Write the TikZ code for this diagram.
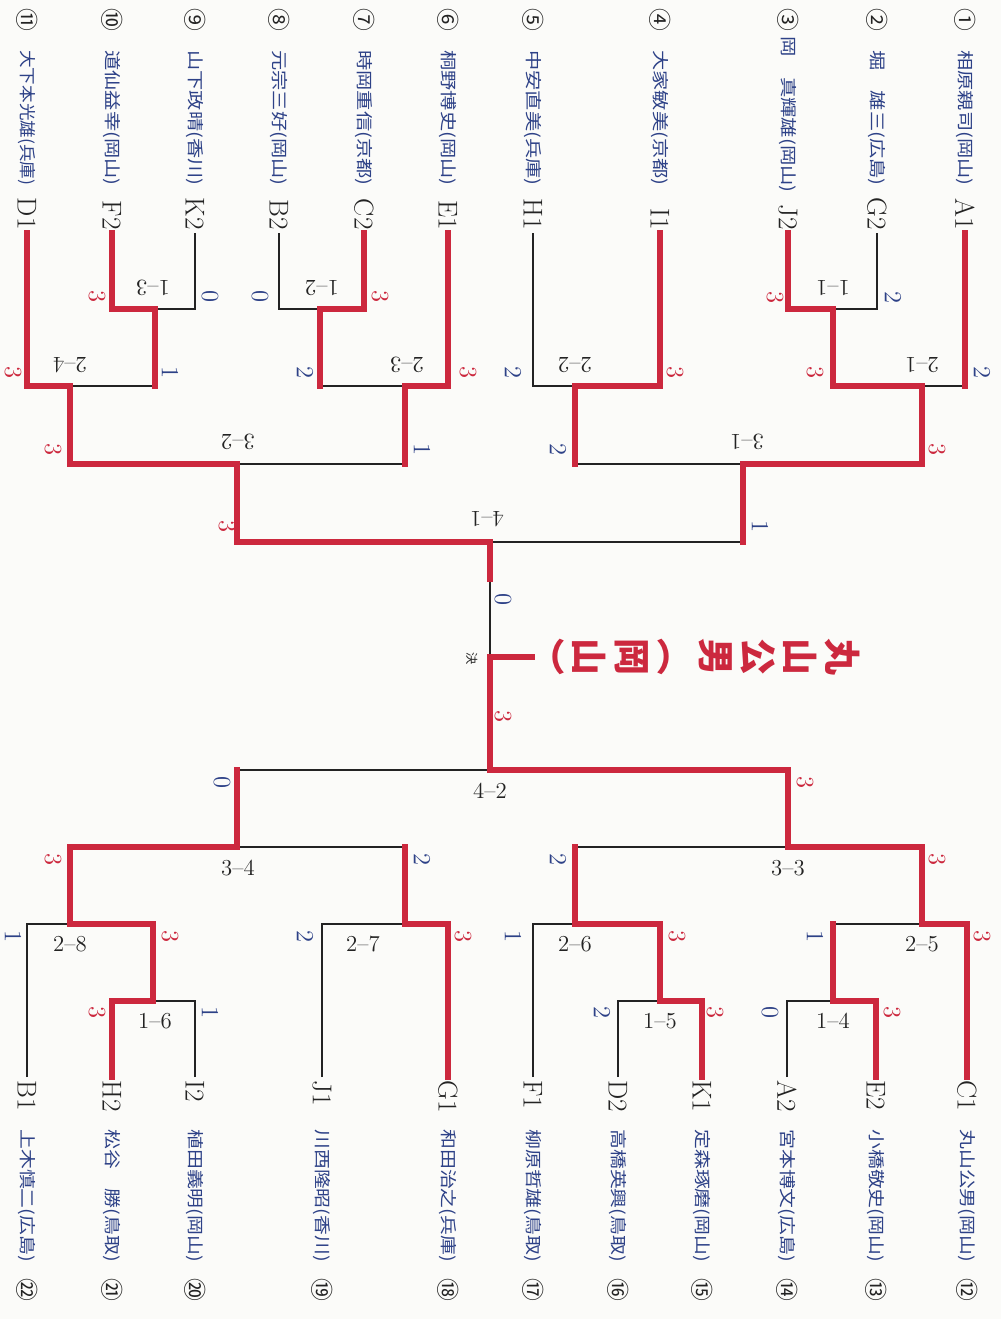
\documentclass[tikz,border=0pt]{standalone}
\usepackage{fontspec}
\usepackage{graphicx}
\newfontfamily\jpfont{Noto Sans CJK JP}
\usetikzlibrary{calc}
\definecolor{lineRed}{RGB}{204,40,62}
\definecolor{nameBlue}{RGB}{45,65,135}
\definecolor{inkBlack}{RGB}{35,35,35}
\definecolor{paper}{RGB}{251,251,249}
\tikzset{
  bline/.style={draw=inkBlack,line width=1pt},
  rline/.style={draw=lineRed,line width=3.6pt,line join=miter,line cap=rect},
  pname/.style={rotate=-90,inner sep=0pt,text=nameBlue,font=\jpfont\fontsize{9.5}{10}\selectfont},
  pcode/.style={rotate=-90,inner sep=0pt,text=inkBlack,font=\fontsize{15.5}{16}\selectfont},
  circnum/.style={rotate=-90,inner sep=0pt,text=inkBlack,font=\jpfont\fontsize{13}{14}\selectfont},
  score/.style={rotate=-90,inner sep=0pt,font=\fontsize{14}{15}\selectfont},
  mlabel/.style={inner sep=0pt,text=inkBlack,font=\fontsize{13}{14}\selectfont},
  champ/.style={rotate=-90,align=center,inner sep=0pt,text=lineRed,
                font=\jpfont\bfseries\fontsize{21}{24}\selectfont},
}

\begin{document}
\begin{tikzpicture}[x=0.02cm,y=-0.02cm]
  \fill[paper] (0,0) rectangle (1001,1319);
  \useasboundingbox (0,0) rectangle (1001,1319);

  \foreach \px/\c/\nm/\cd/\ny/\nw in {965/①/相原親司(岡山)/A1/50/2.7,877/②/堀　雄三(広島)/G2/50/2.7,
      788/③/岡　真輝雄(岡山)/J2/36/3.13,660/④/大家敏美(京都)/I1/50/2.7,533/⑤/中安直美(兵庫)/H1/50/2.7,
      448/⑥/桐野博史(岡山)/E1/50/2.7,364/⑦/時岡重信(京都)/C2/50/2.7,279/⑧/元宗三好(岡山)/B2/50/2.7,
      195/⑨/山下政晴(香川)/K2/50/2.7,112/⑩/道仙益幸(岡山)/F2/50/2.7,27/⑪/大下本光雄(兵庫)/D1/50/2.7}{
    \node[circnum]           (c\cd) at (\px,20)  {\c};
    \node[pname,anchor=west] (n\cd) at (\px,\ny) {\resizebox{\nw cm}{\height}{\nm}};
    \node[pcode,anchor=east] (k\cd) at (\px,230) {\cd};
    \coordinate (p\cd) at (\px,233);
  }
  \foreach \px/\c/\nm/\cd in {967/⑫/丸山公男(岡山)/C1,876/⑬/小橋敬史(岡山)/E2,787/⑭/宮本博文(広島)/A2,
      702/⑮/定森琢磨(岡山)/K1,618/⑯/高橋英興(鳥取)/D2,533/⑰/柳原哲雄(鳥取)/F1,448/⑱/和田治之(兵庫)/G1,
      322/⑲/川西隆昭(香川)/J1,195/⑳/植田義明(岡山)/I2,112/㉑/松谷　勝(鳥取)/H2,27/㉒/上木慎二(広島)/B1}{
    \node[circnum]           (c\cd) at (\px,1290) {\c};
    \node[pname,anchor=west] (n\cd) at (\px,1129) {\resizebox{2.65cm}{\height}{\nm}};
    \node[pcode,anchor=west] (k\cd) at (\px,1080) {\cd};
    \coordinate (p\cd) at (\px,1077);
  }

  \coordinate (m11) at (833,309);
  \coordinate (m12) at (320,309);
  \coordinate (m13) at (155,309);
  \coordinate (m21) at (922,386);
  \coordinate (m22) at (575,386);
  \coordinate (m23) at (405,386);
  \coordinate (m24) at (70,386);
  \coordinate (m31) at (743,464);
  \coordinate (m32) at (237,464);
  \coordinate (m41) at (490,542);
  \coordinate (brk)  at (490,579);
  \coordinate (fin)  at (490,657);
  \coordinate (stub) at (532,657);
  \coordinate (m42) at (490,770);
  \coordinate (m33) at (788,847);
  \coordinate (m34) at (237,847);
  \coordinate (m25) at (922,924);
  \coordinate (m26) at (575,924);
  \coordinate (m27) at (405,924);
  \coordinate (m28) at (70,924);
  \coordinate (m14) at (833,1001);
  \coordinate (m15) at (660,1001);
  \coordinate (m16) at (153,1001);

  \foreach \a/\b in {pG2/m11,pJ2/m11,m11/m21,pA1/m21,pH1/m22,pI1/m22,m22/m31,m21/m31,m31/m41,
      pB2/m12,pC2/m12,pK2/m13,pF2/m13,m12/m23,pE1/m23,pD1/m24,m13/m24,m24/m32,m23/m32,m32/m41,
      pA2/m14,pE2/m14,m14/m25,pC1/m25,pD2/m15,pK1/m15,pF1/m26,m15/m26,m26/m33,m25/m33,
      pJ1/m27,pG1/m27,pB1/m28,pI2/m16,pH2/m16,m16/m28,m28/m34,m27/m34,m34/m42,m33/m42}
    \draw[bline] (\a) |- (\b);
  \draw[bline] (m41) -- (fin);

  \draw[rline] (pJ2) |- (m11) |- (m21) |- (m31) -- (m31 |- m41);
  \draw[rline] (pA1) -- (pA1 |- m21);
  \draw[rline] (pI1) |- (m22) -- (m22 |- m31);
  \draw[rline] (pC2) |- (m12) -- (m12 |- m23);
  \draw[rline] (pE1) |- (m23) -- (m23 |- m32);
  \draw[rline] (pF2) |- (m13) -- (m13 |- m24);
  \draw[rline] (pD1) |- (m24) |- (m32) |- (m41) -- (brk);
  \draw[rline] (pE2) |- (m14) -- (m14 |- m25);
  \draw[rline] (pC1) |- (m25) |- (m33) |- (m42) -- (fin) -- (stub);
  \draw[rline] (pK1) |- (m15) |- (m26) -- (m26 |- m33);
  \draw[rline] (pG1) |- (m27) -- (m27 |- m34);
  \draw[rline] (pH2) |- (m16) |- (m28) |- (m34) -- (m34 |- m42);

  \foreach \sx/\sy/\sv/\sc [count=\i] in {97/297/3/lineRed,210/297/0/nameBlue,260/297/0/nameBlue,380/297/3/lineRed,
      775/298/3/lineRed,893/298/2/nameBlue,13/373/3/lineRed,170/373/1/nameBlue,305/373/2/nameBlue,
      468/373/3/lineRed,513/373/2/nameBlue,675/373/3/lineRed,815/373/3/lineRed,982/373/2/nameBlue,
      53/450/3/lineRed,422/450/1/nameBlue,558/450/2/nameBlue,937/450/3/lineRed,227/527/3/lineRed,
      760/527/1/nameBlue,503/600/0/nameBlue,503/717/3/lineRed,222/783/0/nameBlue,805/783/3/lineRed,
      53/860/3/lineRed,422/860/2/nameBlue,558/860/2/nameBlue,937/860/3/lineRed,13/937/1/nameBlue,
      170/937/3/lineRed,305/937/2/nameBlue,463/937/3/lineRed,513/937/1/nameBlue,677/937/3/lineRed,
      815/937/1/nameBlue,982/937/3/lineRed,97/1013/3/lineRed,210/1013/1/nameBlue,602/1013/2/nameBlue,
      715/1013/3/lineRed,770/1013/0/nameBlue,892/1013/3/lineRed}
    \node[score,text=\sc] (s\i) at (\sx,\sy) {\sv};

  \foreach \j/\t/\dx/\dy in {m11/1--1/0/-21,m21/2--1/0/-21,m22/2--2/0/-21,m31/3--1/4/-22,m12/1--2/2/-21,
      m13/1--3/-2/-21,m23/2--3/2/-21,m24/2--4/0/-21,m32/3--2/1/-22,m41/4--1/-3/-23}
    \node[mlabel,rotate=180] (l\j) at ($(\j)+(\dx,\dy)$) {\t};
  \foreach \j/\t/\dx/\dy in {m42/4--2/0/21,m33/3--3/0/21,m34/3--4/1/21,m25/2--5/0/20,m26/2--6/0/20,
      m27/2--7/-42/20,m28/2--8/0/20,m14/1--4/0/20,m15/1--5/0/20,m16/1--6/2/20}
    \node[mlabel] (l\j) at ($(\j)+(\dx,\dy)$) {\t};

  \node[rotate=-90,inner sep=0pt,text=inkBlack,font=\jpfont\fontsize{7}{8}\selectfont] (kess) at (472,659) {決};
  \node[champ] (winner) at (697,657) {丸\\山\\公\\男\\︵\\岡\\山\\︶};
\end{tikzpicture}
\end{document}
